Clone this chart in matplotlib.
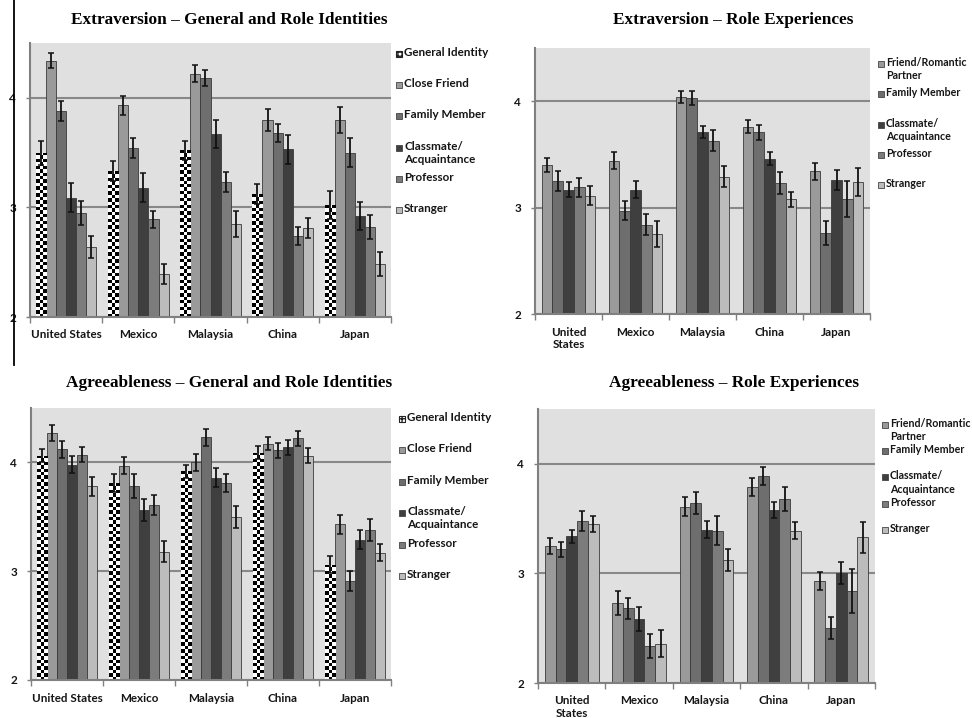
import matplotlib
matplotlib.use("Agg")
import matplotlib.pyplot as plt
import numpy as np
from matplotlib.patches import Rectangle
from matplotlib.lines import Line2D

W, H = 972, 718

countries = ["United States", "Mexico", "Malaysia", "China", "Japan"]
countries_wrapped = ["United\nStates", "Mexico", "Malaysia", "China", "Japan"]

identity_roles = ["General Identity", "Close Friend", "Family Member",
                  "Classmate/\nAcquaintance", "Professor", "Stranger"]
experience_roles = ["Friend/Romantic\nPartner", "Family Member",
                    "Classmate/\nAcquaintance", "Professor", "Stranger"]

identity_colors = ["white", "#9a9a9a", "#6e6e6e", "#3f3f3f", "#7c7c7c", "#bcbcbc"]
experience_colors = ["#9a9a9a", "#6e6e6e", "#3f3f3f", "#7c7c7c", "#bcbcbc"]

# rows = roles, columns = countries
extra_ident_mean = [
    [3.50, 3.33, 3.52, 3.12, 3.02],
    [4.34, 3.93, 4.22, 3.80, 3.80],
    [3.88, 3.54, 4.18, 3.68, 3.50],
    [3.09, 3.18, 3.67, 3.53, 2.92],
    [2.95, 2.89, 3.23, 2.74, 2.82],
    [2.64, 2.39, 2.85, 2.81, 2.48],
]
extra_ident_err = [
    [0.11, 0.09, 0.09, 0.09, 0.13],
    [0.07, 0.09, 0.08, 0.10, 0.12],
    [0.09, 0.09, 0.07, 0.08, 0.13],
    [0.13, 0.13, 0.13, 0.13, 0.13],
    [0.11, 0.08, 0.09, 0.08, 0.11],
    [0.10, 0.09, 0.12, 0.09, 0.11],
]

extra_exp_mean = [
    [3.40, 3.44, 4.04, 3.76, 3.34],
    [3.25, 2.97, 4.03, 3.71, 2.76],
    [3.17, 3.17, 3.71, 3.46, 3.26],
    [3.19, 2.84, 3.63, 3.23, 3.08],
    [3.11, 2.75, 3.29, 3.08, 3.24],
]
extra_exp_err = [
    [0.07, 0.08, 0.06, 0.06, 0.08],
    [0.09, 0.09, 0.07, 0.07, 0.11],
    [0.07, 0.08, 0.06, 0.06, 0.09],
    [0.09, 0.10, 0.10, 0.10, 0.17],
    [0.09, 0.12, 0.10, 0.07, 0.13],
]

agree_ident_mean = [
    [4.06, 3.81, 3.92, 4.09, 3.06],
    [4.27, 3.97, 4.00, 4.17, 3.43],
    [4.12, 3.78, 4.23, 4.11, 2.91],
    [3.98, 3.56, 3.86, 4.14, 3.29],
    [4.07, 3.61, 3.81, 4.22, 3.38],
    [3.78, 3.18, 3.50, 4.06, 3.17],
]
agree_ident_err = [
    [0.06, 0.08, 0.06, 0.06, 0.08],
    [0.07, 0.08, 0.08, 0.06, 0.09],
    [0.08, 0.11, 0.08, 0.07, 0.09],
    [0.08, 0.10, 0.09, 0.07, 0.09],
    [0.07, 0.09, 0.08, 0.07, 0.10],
    [0.09, 0.10, 0.10, 0.07, 0.08],
]

agree_exp_mean = [
    [3.25, 2.73, 3.61, 3.79, 2.93],
    [3.22, 2.68, 3.64, 3.89, 2.50],
    [3.34, 2.58, 3.40, 3.58, 3.00],
    [3.48, 2.34, 3.39, 3.68, 2.84],
    [3.45, 2.36, 3.12, 3.39, 3.33],
]
agree_exp_err = [
    [0.07, 0.11, 0.09, 0.08, 0.08],
    [0.07, 0.10, 0.10, 0.08, 0.10],
    [0.06, 0.11, 0.08, 0.07, 0.10],
    [0.09, 0.11, 0.13, 0.11, 0.20],
    [0.07, 0.12, 0.10, 0.08, 0.14],
]

TICK_FONT = dict(family="Lato", weight="bold", size=8.4, color="#151515")
TITLE_FONT = dict(family="Liberation Serif", weight="bold", size=12.4)


def checker(n_rows, n_cols):
    r, c = np.indices((n_rows, n_cols))
    return ((r + c) % 2).astype(float)


def px_box(x0, y0, x1, y1):
    # pixel box (top-left origin) -> figure fraction rect
    return [x0 / W, 1 - y1 / H, (x1 - x0) / W, (y1 - y0) / H]


def draw_panel(fig, box, title, title_xy, means, errs, roles, colors,
               xlabels, width, first_checker, legend_x, legend_y0, legend_step,
               legend_size):
    ax = fig.add_axes(px_box(*box))
    ax.set_facecolor("#e0e0e0")
    means = np.array(means)
    errs = np.array(errs)
    n = len(roles)
    idx = np.arange(len(xlabels))
    ymin, ymax = 2.0, 4.5
    ax_h_px = box[3] - box[1]
    px_per_unit = ax_h_px / (ymax - ymin)

    for j in range(n):
        xs = idx + (j - (n - 1) / 2) * width
        bars = ax.bar(xs, means[j], width=width, color=colors[j],
                      edgecolor="#3a3a3a", linewidth=0.6, zorder=2)
        if j == 0 and first_checker:
            for b in bars:
                h = b.get_height() - ymin
                rows = max(1, int(round(h * px_per_unit / 3.4)))
                im = ax.imshow(checker(rows, 3), cmap="gray", vmin=0, vmax=1,
                               extent=(b.get_x(), b.get_x() + b.get_width(),
                                       ymin, b.get_height()),
                               interpolation="nearest", aspect="auto", zorder=2.1)
                im.set_clip_path(b)
        ax.errorbar(xs, means[j], yerr=errs[j], fmt="none", ecolor="#111111",
                    elinewidth=1.3, capsize=2.5, capthick=1.1, zorder=3)

    ax.set_xlim(-0.5, len(xlabels) - 0.5)
    ax.set_ylim(ymin, ymax)
    ax.set_yticks([2, 3, 4])
    ax.set_yticklabels(["2", "3", "4"], fontdict=TICK_FONT)
    ax.set_xticks(np.arange(-0.5, len(xlabels), 1.0))
    ax.set_xticklabels([])
    ax.set_xticks(idx, minor=True)
    ax.set_xticklabels(xlabels, minor=True, fontdict=TICK_FONT)
    ax.tick_params(axis="x", which="major", length=4, color="#808080", width=1)
    ax.tick_params(axis="x", which="minor", length=0, pad=9)
    ax.tick_params(axis="y", length=3, color="#808080", width=1, pad=7)
    ax.yaxis.grid(True, color="#888888", linewidth=1.5, zorder=1)
    ax.set_axisbelow(True)
    for s in ["top", "right"]:
        ax.spines[s].set_visible(False)
    for s in ["left", "bottom"]:
        ax.spines[s].set_color("#808080")
        ax.spines[s].set_linewidth(1.5)

    fig.text(title_xy[0] / W, 1 - title_xy[1] / H, title, ha="center",
             va="center", **TITLE_FONT)

    # legend, one entry every legend_step pixels like the original spreadsheet
    legend_font = dict(TICK_FONT, size=legend_size)
    for k, (lab, col) in enumerate(zip(roles, colors)):
        y = legend_y0 + k * legend_step
        if k == 0 and first_checker:
            handle = Rectangle(((legend_x - 3) / W, 1 - (y + 3) / H), 6 / W, 6 / H,
                               transform=fig.transFigure, facecolor="white",
                               edgecolor="#222222", hatch="++++", linewidth=0.8)
        else:
            handle = Rectangle(((legend_x - 3) / W, 1 - (y + 3) / H), 6 / W, 6 / H,
                               transform=fig.transFigure, facecolor=col,
                               edgecolor="#444444", linewidth=0.6)
        fig.patches.append(handle)
        fig.text((legend_x + 5) / W, 1 - (y - 7) / H, lab, ha="left", va="top",
                 linespacing=1.25, **legend_font)
    return ax


fig = plt.figure(figsize=(W / 100, H / 100), dpi=100)

draw_panel(fig, (30, 43, 391, 317), "Extraversion \u2013 General and Role Identities",
           (229, 20), extra_ident_mean, extra_ident_err, identity_roles,
           identity_colors, countries, 0.14, True, 399, 54, 31.2, 8.4)
draw_panel(fig, (535, 48, 870, 314), "Extraversion \u2013 Role Experiences",
           (733, 20), extra_exp_mean, extra_exp_err, experience_roles,
           experience_colors, countries_wrapped, 0.16, False, 881, 64, 30.3, 7.7)
draw_panel(fig, (31, 408, 391, 680), "Agreeableness \u2013 General and Role Identities",
           (229, 383), agree_ident_mean, agree_ident_err, identity_roles,
           identity_colors, countries, 0.14, True, 402, 419, 31.4, 8.4)
draw_panel(fig, (538, 409, 875, 683), "Agreeableness \u2013 Role Experiences",
           (734, 383), agree_exp_mean, agree_exp_err, experience_roles,
           experience_colors, countries_wrapped, 0.16, False, 885, 425, 26.2, 7.7)

# thin rule at the left edge of the scanned page
fig.add_artist(Line2D([14 / W, 14 / W], [1.0, 1 - 365 / H], color="black",
                      linewidth=1.3, transform=fig.transFigure))

fig.savefig("out.png", dpi=100)
